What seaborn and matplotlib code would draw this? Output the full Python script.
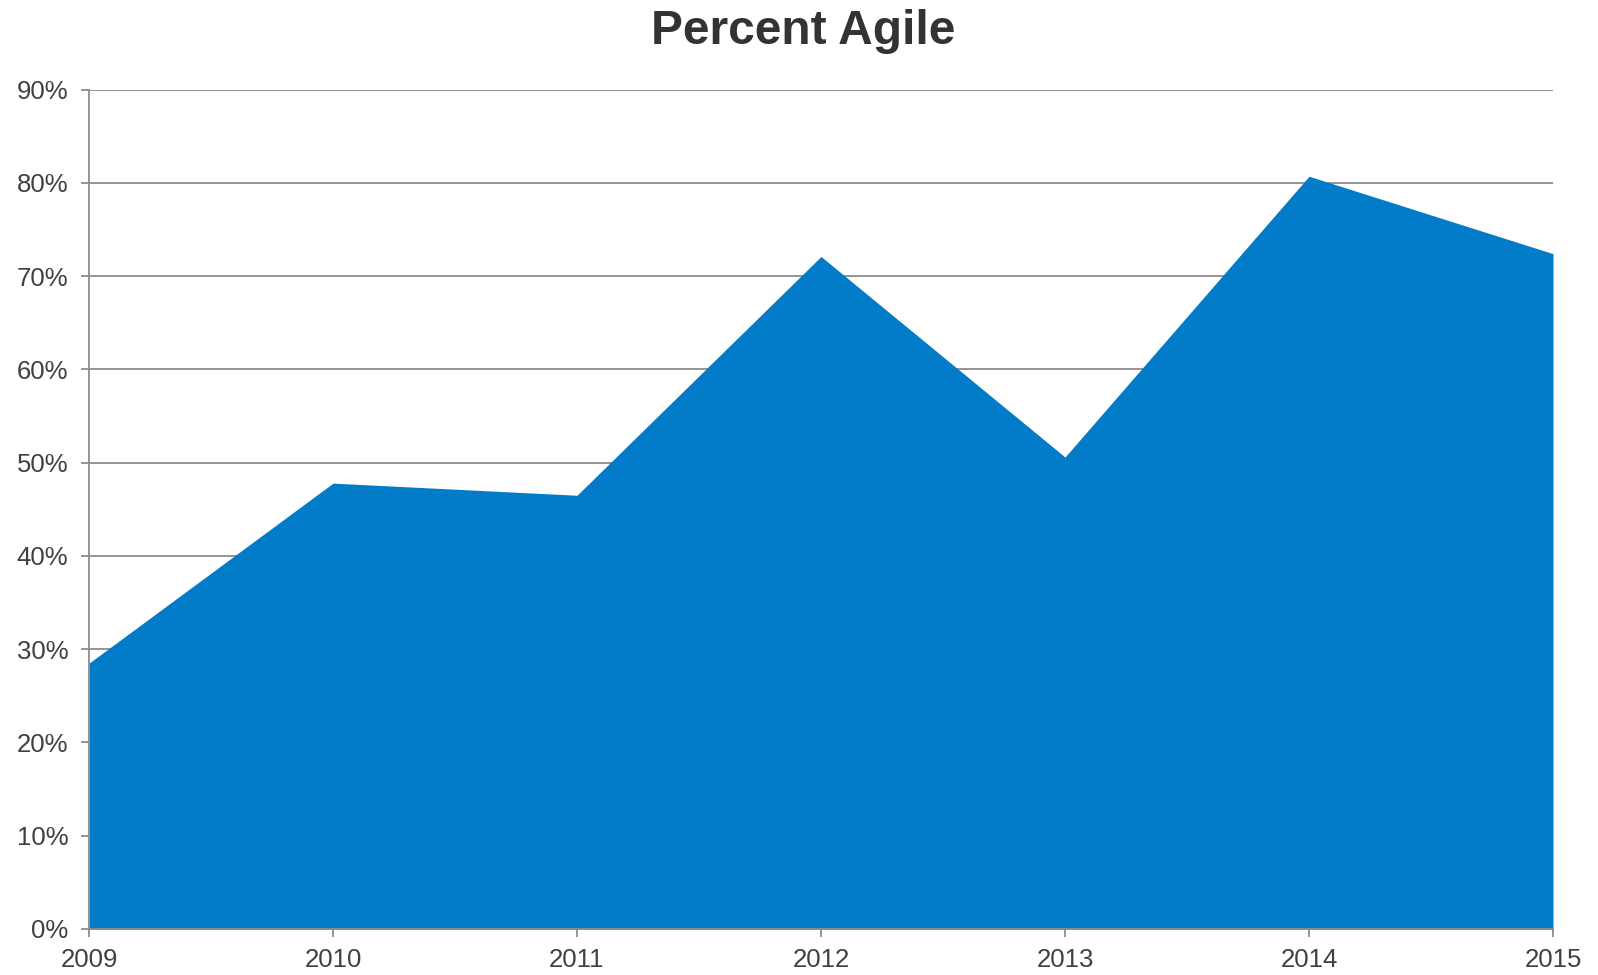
import matplotlib
matplotlib.use("Agg")
import matplotlib.pyplot as plt
import seaborn as sns
import pandas as pd
from matplotlib.ticker import FuncFormatter, MultipleLocator

years = [2009, 2010, 2011, 2012, 2013, 2014, 2015]
percent_agile = [28.5, 47.8, 46.5, 72.1, 50.6, 80.7, 72.4]
title = "Percent Agile"

df = pd.DataFrame({"year": years, "pct": percent_agile})

sns.set_theme(style="white")
plt.rcParams['font.family'] = ['Liberation Sans', 'DejaVu Sans']

fig = plt.figure(figsize=(15.98, 9.75), dpi=100)
ax = fig.add_axes([89/1598, 1-929/975, (1553-89)/1598, (929-89.5)/975])

fill_color = "#027CC8"
grid_color = "#8c8c8c"
text_color = "#404040"

sns.lineplot(data=df, x="year", y="pct", ax=ax, color=fill_color, linewidth=0)
ax.fill_between(df["year"], 0, df["pct"], color=fill_color, linewidth=0, zorder=2)

ax.set_xlim(years[0], years[-1])
ax.set_ylim(0, 90)
ax.yaxis.set_major_locator(MultipleLocator(10))
ax.set_xticks(years)
ax.yaxis.set_major_formatter(FuncFormatter(lambda v, p: f"{int(round(v))}%"))

ax.grid(axis="y", color=grid_color, linewidth=1.3, zorder=1)
ax.set_axisbelow(True)
for s in ["top", "right"]:
    ax.spines[s].set_visible(False)
for s in ["left", "bottom"]:
    ax.spines[s].set_color(grid_color)
    ax.spines[s].set_linewidth(1.3)
    ax.spines[s].set_zorder(3)

ax.tick_params(axis="both", which="major", direction="out", length=6, width=1.3,
               color=grid_color, labelsize=18.5, labelcolor=text_color,
               left=True, bottom=True)
ax.tick_params(axis="y", pad=9)
ax.tick_params(axis="x", pad=8)
ax.set_xlabel("")
ax.set_ylabel("")

fig.text(0.5025, 1-32/975, title, ha="center", va="center", fontsize=34.5,
         fontweight="bold", color="#333333")

fig.savefig("out.png", dpi=100)
